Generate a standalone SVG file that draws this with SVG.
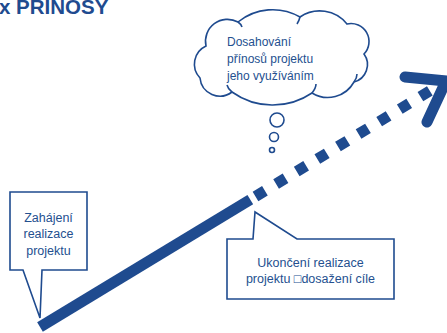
<svg xmlns="http://www.w3.org/2000/svg" width="447" height="333" viewBox="0 0 447 333">
<style>
.ln{fill:#fff;stroke:#1F4B8F;stroke-width:1.6;stroke-linejoin:miter}
.t{font-family:"Liberation Sans",Arial,sans-serif;fill:#24508F}
.c{font-size:12.5px;text-anchor:middle}
.k{font-size:12px}
.thick{fill:none;stroke:#1F4B8F;stroke-width:11}
</style>
<rect width="447" height="333" fill="#fff"/>
<text class="t" x="-1" y="14" style="font-size:20.5px;font-weight:bold;fill:#1F4B8F">x PRINOSY</text>
<g id="connectors">
<path class="thick" d="M40,327 L250.3,199.6"/>
<path class="thick" d="M255.5,196.5 L430,90.8" stroke-dasharray="11 13.1"/>
<path class="thick" d="M405,77 L446,81 L427,122" stroke-linecap="round" stroke-linejoin="miter"/>
</g>
<g id="cloud">
<path class="ln" d="M200,78 A20,20 0 0 1 206,46 A22,22 0 0 1 238,22 A55,55 0 0 1 300,17 A35,35 0 0 1 347,24 A18,18 0 0 1 364,54 A18,18 0 0 1 354,82 A30,30 0 0 1 312,93 A70,70 0 0 1 232,92 A20,20 0 0 1 200,78 Z"/>
<path class="ln" style="fill:none" d="M232,92 Q228,89 227,85 M312,93 Q316,88 316,84 M354,82 Q357,78 357,74 M300,17 Q299,21 297,24 M238,22 Q241,24 242,27"/>
<circle class="ln" cx="277" cy="120" r="7"/>
<circle class="ln" cx="274" cy="137" r="4.5"/>
<circle class="ln" cx="272" cy="150" r="2.5"/>
<text class="t k" x="227" y="46">Dosahování</text>
<text class="t k" x="227" y="63">přínosů projektu</text>
<text class="t k" x="227" y="80">jeho využíváním</text>
</g>
<g id="start">
<path class="ln" d="M10,192 H87 V270 H42 L40,318 L23,270 H10 Z"/>
<text class="t c" x="48.5" y="222">Zahájení</text>
<text class="t c" x="48.5" y="238">realizace</text>
<text class="t c" x="48.5" y="255">projektu</text>
</g>
<g id="end">
<path class="ln" d="M227,239 H253 L255,212 L297,239 H394 V299 H227 Z"/>
<text class="t c" x="310.5" y="267">Ukončení realizace</text>
<text class="t c" x="310.5" y="283">projektu □dosažení cíle</text>
</g>
</svg>
